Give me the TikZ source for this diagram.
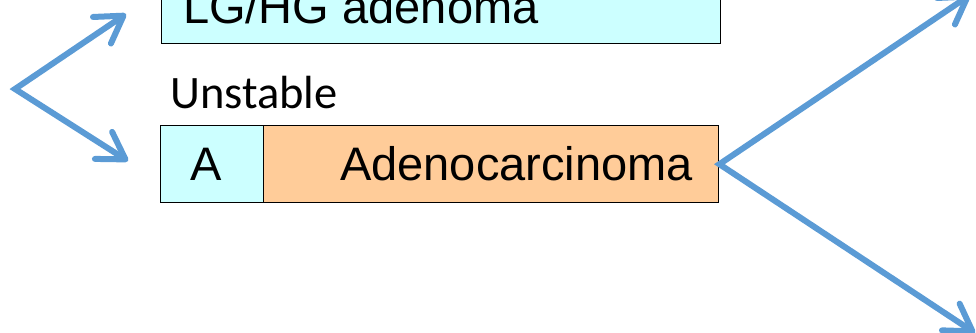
\documentclass[tikz,border=0pt]{standalone}
\usepackage{fontspec}
\setmainfont{Liberation Sans}
\newfontfamily\calib{Carlito}
\usetikzlibrary{arrows.meta}
\definecolor{cyanfill}{HTML}{CCFFFF}
\definecolor{orangefill}{HTML}{FFCC99}
\definecolor{arrowblue}{HTML}{5B9BD5}
\begin{document}
\begin{tikzpicture}[x=1pt,y=-1pt,
  cell/.style={draw=black, line width=1.4pt, inner sep=0pt, anchor=north west},
  bigtext/.style={font=\fontsize{47}{52}\selectfont, inner sep=0pt, anchor=base west},
  flow/.style={draw=arrowblue, line width=6pt, line join=miter,
    {Straight Barb[length=26pt, width=32pt, round]}-{Straight Barb[length=26pt, width=32pt, round]}}]
\useasboundingbox (0,0) rectangle (976,332);
\clip (0,0) rectangle (976,332);
% top box
\node[cell, fill=cyanfill, minimum width=559pt, minimum height=83pt] (topbox) at (161,-40) {};
\node[bigtext] (toptext) at (183,23) {LG/HG adenoma};
% unstable label
\node[font=\calib\fontsize{46.5}{50}\selectfont, inner sep=0pt, anchor=base west] (unstable) at (170,108) {Unstable};
% lower box
\node[cell, fill=cyanfill, minimum width=103pt, minimum height=77pt] (acell) at (160,125) {};
\node[cell, fill=orangefill, minimum width=455pt, minimum height=77pt] (adcell) at (263,125) {};
\node[bigtext] (atext) at (190,180) {A};
\node[bigtext] (adtext) at (340,180) {Adenocarcinoma};
% left arrows
\coordinate (lv) at (15,89);
\coordinate (lt1) at (126,14);
\coordinate (lt2) at (128,161);
\draw[flow] (lt1) -- (lv) -- (lt2);
% right arrows
\coordinate (rv) at (adcell.east);
\coordinate (rt1) at (970,-5);
\coordinate (rt2) at (975,333);
\draw[flow] (rt1) -- (rv) -- (rt2);
\end{tikzpicture}
\end{document}
